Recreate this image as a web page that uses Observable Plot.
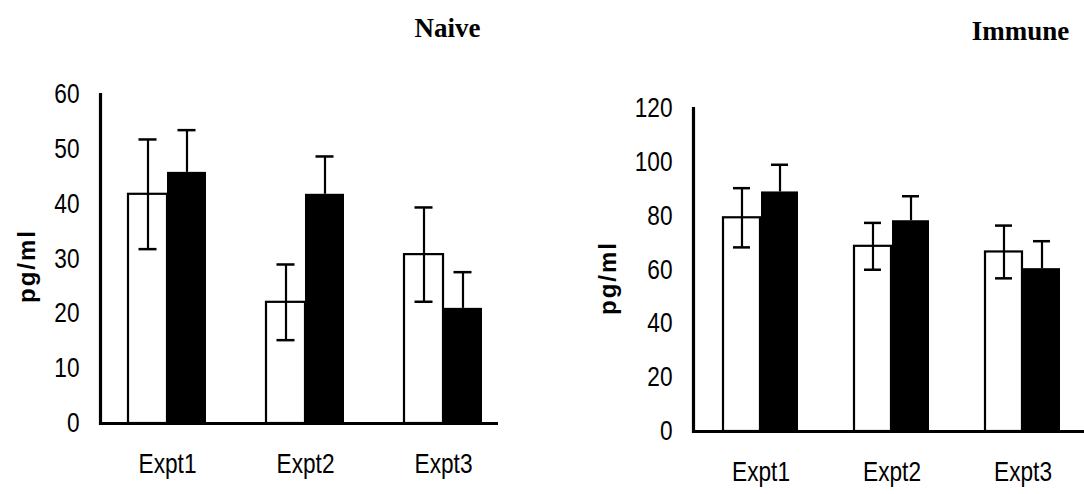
<!DOCTYPE html>
<html>
<head>
<meta charset="utf-8">
<script src="https://cdn.jsdelivr.net/npm/d3@7"></script>
<script src="https://cdn.jsdelivr.net/npm/@observablehq/plot@0.6"></script>
<style>
  html, body { margin: 0; padding: 0; background: white; }
  #wrap { position: relative; width: 1084px; height: 494px; overflow: hidden; }
  #wrap > div { position: absolute; top: 0; }
</style>
</head>
<body>
<div id="wrap"><div id="left" style="left:0"></div><div id="right" style="left:540px"></div></div>
<script>
// ---- data ----
const experiments = ["Expt1", "Expt2", "Expt3"];
const naiveOpen = [41.8, 22.1, 30.8];
const naiveOpenErr = [10.0, 6.9, 8.6];
const naiveFilled = [45.8, 41.8, 21.0];
const naiveFilledErr = [7.7, 6.9, 6.6];
const immuneOpen = [79.4, 68.8, 66.7];
const immuneOpenErr = [11.0, 8.7, 9.8];
const immuneFilled = [89.0, 78.3, 60.5];
const immuneFilledErr = [10.1, 9.1, 10.2];
const naiveTicks = [0, 10, 20, 30, 40, 50, 60];
const immuneTicks = [0, 20, 40, 60, 80, 100, 120];
const panelTitles = ["Naive", "Immune"];
const yLabel = "pg/ml";

const rows = (vals, errs) => experiments.map((e, i) => ({expt: e, value: vals[i], err: errs[i]}));
const SQUEEZE = 0.84;

function panel({open, filled, ticks, title, width, marginLeft, marginRight, marginTop, marginBottom, xRange, pi, titleDx, titleDy, labelDx, labelDy}) {
  const n = experiments.length;
  const step = (xRange[1] - xRange[0]) / (n - pi);
  const bw = step * (1 - pi);
  const half = bw / 2;
  const cap = 9;
  const font = "'Liberation Sans', Arial, sans-serif";
  const chart = Plot.plot({
    width, height: 494,
    marginLeft, marginRight, marginTop, marginBottom,
    style: {fontFamily: font, fontSize: "28px", color: "black", background: "white", overflow: "visible"},
    x: {domain: experiments, range: xRange, paddingInner: pi, paddingOuter: 0},
    y: {domain: [ticks[0], ticks[ticks.length - 1]]},
    marks: [
      Plot.axisX({tickSize: 0, tickPadding: 30, fontSize: 27, label: null}),
      Plot.axisY({ticks, tickSize: 0, tickPadding: 21, fontSize: 27, label: null}),
      Plot.barY(open, {x: "expt", y: "value", fill: "white", stroke: "black", strokeWidth: 2.2, insetRight: half}),
      Plot.barY(filled, {x: "expt", y: "value", fill: "black", insetLeft: half}),
      Plot.ruleX(open, {x: "expt", y1: d => d.value - d.err, y2: d => d.value + d.err, dx: -half / 2, strokeWidth: 2.2}),
      Plot.tickY(open, {x: "expt", y: d => d.value - d.err, insetLeft: half / 2 - cap, insetRight: 1.5 * half - cap, strokeWidth: 2.5}),
      Plot.tickY(open, {x: "expt", y: d => d.value + d.err, insetLeft: half / 2 - cap, insetRight: 1.5 * half - cap, strokeWidth: 2.5}),
      Plot.ruleX(filled, {x: "expt", y1: "value", y2: d => d.value + d.err, dx: half / 2, strokeWidth: 2.2}),
      Plot.tickY(filled, {x: "expt", y: d => d.value + d.err, insetLeft: 1.5 * half - cap, insetRight: half / 2 - cap, strokeWidth: 2.5}),
      Plot.ruleY([0], {strokeWidth: 3.2}),
      Plot.frame({anchor: "left", strokeWidth: 3.2}),
      Plot.text([title], {frameAnchor: "top-left", textAnchor: "middle", lineAnchor: "middle", dx: titleDx, dy: titleDy, fontFamily: "'Liberation Serif', 'Times New Roman', serif", fontWeight: "bold", fontSize: 27}),
      Plot.text([yLabel], {frameAnchor: "left", textAnchor: "middle", lineAnchor: "middle", dx: labelDx, dy: labelDy, rotate: -90, fontFamily: "'Liberation Sans', Arial, sans-serif", fontWeight: "bold", fontSize: 24})
    ]
  });
  const svg = d3.select(chart);
  svg.selectAll("text").filter(function() { return this.textContent === yLabel; }).attr("letter-spacing", "2px");
  // condensed look for tick labels (the reference uses a narrow sans face)
  svg.selectAll("g[aria-label='x-axis tick label'] text, g[aria-label='y-axis tick label'] text")
    .each(function() {
      const t = d3.select(this);
      t.attr("transform", (t.attr("transform") || "") + ` scale(${SQUEEZE},1)`);
    });
  return chart;
}

document.getElementById("left").appendChild(panel({
  open: rows(naiveOpen, naiveOpenErr), filled: rows(naiveFilled, naiveFilledErr), ticks: naiveTicks, title: panelTitles[0],
  width: 540, marginLeft: 100, marginRight: 42, marginTop: 94, marginBottom: 71,
  xRange: [128, 482], pi: 0.435, titleDx: 347, titleDy: -66, labelDx: -73, labelDy: 7
}));
document.getElementById("right").appendChild(panel({
  open: rows(immuneOpen, immuneOpenErr), filled: rows(immuneFilled, immuneFilledErr), ticks: immuneTicks, title: panelTitles[1],
  width: 544, marginLeft: 153, marginRight: 0, marginTop: 108, marginBottom: 63,
  xRange: [182, 522], pi: 0.424, titleDx: 327, titleDy: -77, labelDx: -85, labelDy: 8
}));
</script>
</body>
</html>
